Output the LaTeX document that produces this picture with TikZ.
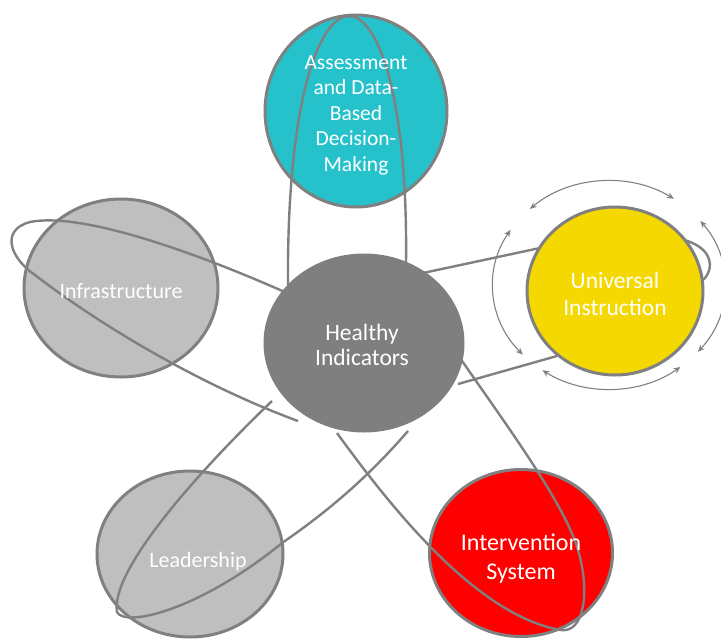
\documentclass[tikz,border=0pt]{standalone}
\usepackage{fontspec}
\setmainfont{Carlito}
\usetikzlibrary{shapes.geometric,arrows.meta}
\definecolor{tealc}{RGB}{38,194,203}
\definecolor{yelc}{RGB}{245,216,0}
\definecolor{redc}{RGB}{255,0,0}
\definecolor{lgray}{RGB}{191,191,191}
\definecolor{dgray}{RGB}{127,127,127}
\definecolor{edgec}{RGB}{128,128,128}
\begin{document}
\begin{tikzpicture}[x=1pt,y=-1pt,
  ball/.style={ellipse, draw=edgec, line width=3pt, inner sep=0pt},
  txt/.style={text=white, align=center, inner sep=0pt},
  conn/.style={draw=edgec, line width=2.4pt},
  cyc/.style={draw=edgec, line width=1.1pt, {Stealth[length=7pt,width=6pt]}-{Stealth[length=7pt,width=6pt]}}]
\useasboundingbox (0,0) rectangle (721,638);
% outer circles
\node[ball, fill=tealc, minimum width=182pt, minimum height=192pt] (adm) at (356,111) {};
\node[ball, fill=lgray, minimum width=194pt, minimum height=178pt] (inf) at (121,288) {};
\node[ball, fill=lgray, minimum width=186pt, minimum height=166pt] (lead) at (190,554) {};
\node[ball, fill=redc, minimum width=183pt, minimum height=167pt] (intv) at (521,553) {};
% free ends of connectors
\coordinate (a1) at (288,287);
\coordinate (a2) at (406,263);
\coordinate (i1) at (287,293);
\coordinate (i2) at (298,421);
\coordinate (l1) at (272,401);
\coordinate (l2) at (408,431);
\coordinate (v1) at (337,433);
\coordinate (v2) at (460,358);
\coordinate (u1) at (423,273);
\coordinate (u2) at (703,280);
\coordinate (u3) at (458,384);
\coordinate (u4) at (557,356);
\coordinate (uc) at (609,285);
% connectors
\draw[conn] (a1) .. controls (285,-70) and (410,-70) .. (a2);
\draw[conn] (i1) .. controls (190,250) and (80,212) .. (30,222)
  .. controls (0,230) and (10,258) .. (35,275)
  .. controls (100,325) and (200,385) .. (i2);
\draw[conn] (l1) .. controls (200,470) and (110,570) .. (117,612)
  .. controls (125,628) and (200,610) .. (282,543)
  .. controls (330,510) and (370,475) .. (l2);
\draw[conn] (v1) .. controls (400,520) and (480,615) .. (560,630)
  .. controls (585,634) and (590,590) .. (578,550)
  .. controls (565,505) and (510,430) .. (v2);
\draw[conn] (u1) -- (540,248) .. controls (600,236) and (670,228) .. (698,246)
  .. controls (714,256) and (712,272) .. (u2);
\draw[conn] (u3) -- (u4);
% universal instruction
\node[ball, fill=yelc, minimum width=176pt, minimum height=168pt] (ui) at (615,291) {};
\draw[cyc] ([shift={(-56:116 and 104)}]uc) arc[start angle=-56, end angle=-133, x radius=116, y radius=104];
\draw[cyc] ([shift={(-148:116 and 104)}]uc) arc[start angle=-148, end angle=-222, x radius=116, y radius=104];
\draw[cyc] ([shift={(-235:116 and 104)}]uc) arc[start angle=-235, end angle=-308, x radius=116, y radius=104];
\draw[cyc] ([shift={(40:116 and 104)}]uc) arc[start angle=40, end angle=-38, x radius=116, y radius=104];
% healthy indicators
\node[ball, draw=dgray, fill=dgray, minimum width=198pt, minimum height=176pt] (hi) at (364,343) {};
% texts
\node[txt, font=\fontsize{21.5}{25.5}\selectfont] (admt) at ([yshift=-4pt]adm.center) {Assessment\\and Data-\\Based\\Decision-\\Making};
\node[txt, font=\fontsize{22}{26}\selectfont] (inft) at ([yshift=-3pt]inf.center) {Infrastructure};
\node[txt, font=\fontsize{22}{26}\selectfont] (leadt) at ([xshift=8pt,yshift=-8pt]lead.center) {Leadership};
\node[txt, font=\fontsize{24}{29}\selectfont] (intvt) at ([yshift=-6pt]intv.center) {Intervention\\System};
\node[txt, font=\fontsize{23.5}{27}\selectfont] (uit) at ([yshift=-3pt]ui.center) {Universal\\Instruction};
\node[txt, font=\fontsize{23.5}{25.5}\selectfont] (hit) at ([xshift=-2pt,yshift=-2pt]hi.center) {Healthy\\Indicators};
\end{tikzpicture}
\end{document}
